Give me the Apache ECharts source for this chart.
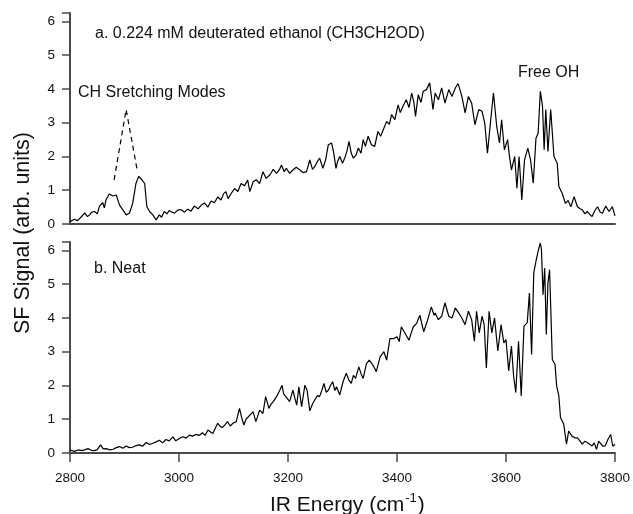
<!DOCTYPE html>
<html>
<head>
<meta charset="utf-8">
<script src="https://cdn.jsdelivr.net/npm/echarts@6/dist/echarts.min.js"></script>
<style>
html, body { margin: 0; padding: 0; background: #fff; }
#chart { width: 633px; height: 514px; }
</style>
</head>
<body>
<div id="chart"></div>
<script>
// a. deuterated ethanol spectrum (x in cm-1, y in arb. units)
var topX = [2800,2808,2814,2820,2827,2832,2836,2840,2845,2850,2854,2860,2863,2866,2872,2879,2885,2888,2891,2897,
	2903,2909,2915,2921,2926,2932,2937,2941,2946,2952,2958,2964,2968,2973,2978,2982,2987,2992,2998,3004,
	3010,3016,3022,3028,3035,3041,3047,3053,3059,3065,3071,3077,3082,3086,3090,3096,3102,3108,3114,3120,
	3126,3130,3136,3142,3148,3154,3160,3167,3173,3179,3184,3188,3193,3197,3203,3209,3215,3222,3228,3234,
	3240,3245,3249,3254,3258,3264,3269,3274,3280,3284,3288,3291,3295,3300,3304,3308,3312,3316,3320,3325,
	3329,3334,3338,3342,3347,3353,3359,3365,3370,3375,3381,3386,3390,3396,3402,3406,3411,3417,3422,3427,
	3431,3434,3439,3444,3448,3454,3460,3463,3466,3470,3476,3482,3488,3495,3501,3507,3512,3516,3519,3525,
	3531,3537,3543,3550,3556,3561,3566,3572,3577,3583,3588,3592,3597,3603,3606,3610,3616,3620,3624,3629,
	3634,3640,3645,3650,3655,3659,3663,3667,3670,3673,3677,3682,3688,3694,3697,3703,3709,3714,3719,3725,
	3731,3736,3740,3745,3749,3754,3758,3763,3768,3773,3777,3783,3789,3795,3800];
var topY = [0.07,0.14,0.10,0.20,0.33,0.22,0.27,0.35,0.37,0.30,0.53,0.63,0.48,0.71,0.89,0.83,0.86,0.70,0.56,0.42,
	0.27,0.32,0.61,1.20,1.41,1.31,1.20,0.51,0.37,0.27,0.12,0.27,0.20,0.37,0.30,0.40,0.35,0.32,0.42,0.42,
	0.35,0.44,0.38,0.53,0.45,0.56,0.62,0.50,0.68,0.63,0.80,0.71,0.90,0.96,0.75,0.91,1.05,0.96,1.20,1.13,
	1.30,0.96,1.25,1.31,1.20,1.55,1.35,1.46,1.62,1.50,1.60,1.75,1.55,1.65,1.50,1.60,1.68,1.60,1.52,1.55,
	1.90,1.62,1.70,1.85,1.95,1.65,1.90,2.35,2.40,2.10,1.65,1.85,2.00,1.80,1.95,2.15,2.45,2.10,1.95,2.05,
	2.25,2.10,2.50,2.30,2.60,2.35,2.30,2.74,2.60,2.80,3.04,2.95,3.24,3.09,3.53,3.30,3.49,3.68,3.45,3.88,
	3.60,3.19,3.83,3.60,3.93,3.98,4.18,3.80,3.39,3.88,3.68,4.03,3.58,3.98,3.78,4.03,4.16,3.95,3.78,3.29,
	3.78,3.58,2.94,3.39,3.34,2.99,2.10,3.09,3.88,2.89,2.40,3.09,2.20,2.50,2.05,1.60,2.00,1.06,2.00,0.71,
	1.90,2.25,1.90,1.21,2.54,2.69,3.93,3.49,2.20,3.39,2.15,3.39,2.00,1.80,1.11,0.91,0.61,0.70,0.51,0.81,
	0.51,0.45,0.42,0.30,0.37,0.28,0.22,0.40,0.51,0.35,0.32,0.53,0.37,0.51,0.24];

// dashed guide over the CH stretch
var dashX = [2881, 2903, 2923];
var dashY = [1.31, 3.39, 1.62];

// b. neat spectrum
var botX = [2800,2808,2815,2822,2828,2833,2839,2845,2850,2856,2861,2867,2873,2879,2885,2891,2897,2903,2909,2915,
	2921,2927,2933,2940,2946,2952,2958,2964,2970,2976,2982,2989,2994,2998,3003,3007,3013,3019,3025,3031,
	3037,3043,3048,3053,3058,3062,3067,3071,3076,3080,3085,3089,3094,3099,3105,3111,3115,3119,3123,3126,
	3130,3136,3141,3148,3154,3159,3165,3169,3173,3179,3185,3189,3192,3196,3203,3209,3213,3216,3220,3225,
	3231,3235,3240,3245,3249,3254,3258,3262,3266,3270,3274,3278,3282,3286,3289,3295,3301,3307,3312,3316,
	3320,3324,3330,3334,3338,3344,3349,3356,3362,3369,3376,3381,3387,3394,3400,3404,3408,3415,3422,3426,
	3430,3436,3442,3449,3456,3463,3468,3470,3476,3482,3488,3495,3501,3507,3513,3519,3525,3531,3537,3542,
	3546,3551,3556,3560,3564,3569,3574,3579,3585,3591,3596,3600,3605,3610,3614,3618,3623,3628,3633,3639,
	3643,3647,3651,3655,3659,3663,3665,3668,3671,3674,3677,3680,3685,3690,3693,3697,3700,3706,3711,3715,
	3721,3726,3731,3736,3740,3745,3749,3754,3758,3762,3766,3770,3773,3778,3782,3787,3792,3796,3800];
var botY = [0.09,0.05,0.09,0.07,0.10,0.13,0.08,0.07,0.10,0.24,0.12,0.13,0.09,0.11,0.16,0.19,0.14,0.21,0.16,0.17,
	0.22,0.24,0.20,0.31,0.25,0.29,0.33,0.38,0.30,0.40,0.36,0.48,0.36,0.40,0.45,0.48,0.44,0.53,0.50,0.55,
	0.52,0.60,0.52,0.68,0.62,0.58,0.75,0.88,0.78,0.76,0.85,0.93,0.80,0.88,0.93,1.32,1.05,0.83,1.00,1.03,
	1.12,1.22,0.93,1.27,1.17,1.67,1.32,1.45,1.52,1.67,1.86,2.01,1.75,1.67,1.52,1.86,1.60,1.42,1.96,1.37,
	2.01,1.86,1.25,1.45,1.57,1.70,1.67,1.85,2.06,1.80,1.86,2.00,2.11,1.85,1.96,1.72,2.11,2.36,2.15,2.06,
	2.30,2.21,2.55,2.35,2.21,2.65,2.75,2.60,2.41,2.85,3.00,2.75,3.39,3.39,3.44,3.30,3.74,3.54,3.34,3.55,
	3.74,3.84,4.08,3.59,3.93,4.33,4.08,4.15,3.95,4.05,4.45,4.05,4.00,4.30,4.15,4.00,3.80,4.20,3.95,3.31,
	4.20,3.56,4.05,3.80,2.52,4.20,3.56,4.00,3.02,3.80,3.26,3.36,2.43,3.17,2.28,1.79,3.31,1.69,3.76,3.86,
	4.74,2.92,5.34,5.68,5.98,6.22,6.05,4.69,5.48,3.51,5.04,5.43,2.77,2.62,1.98,1.69,1.05,0.85,0.26,0.65,
	0.50,0.45,0.45,0.35,0.26,0.35,0.31,0.25,0.21,0.30,0.11,0.35,0.40,0.20,0.21,0.40,0.55,0.20,0.26];

function pairs(xs, ys) {
	var out = [];
	for (var i = 0; i < xs.length; i++) {
		out.push([xs[i], ys[i]]);
	}
	return out;
}

var font = 'Liberation Sans, Arial, sans-serif';
var axisColor = '#4a4a4a';

function yAxisFor(idx) {
	return {
		gridIndex: idx,
		type: 'value',
		min: 0,
		max: 6.25,
		interval: 1,
		axisLine: { show: true, onZero: false, lineStyle: { color: axisColor, width: 2 } },
		axisTick: { show: true, inside: false, length: 8, lineStyle: { color: axisColor, width: 1.5 } },
		axisLabel: {
			margin: 15, color: '#111', fontSize: 13.5, fontFamily: font,
			formatter: function (v) { return v % 1 === 0 ? String(v) : ''; }
		},
		splitLine: { show: false }
	};
}

var chart = echarts.init(document.getElementById('chart'));
var option = {
	animation: false,
	backgroundColor: '#fff',
	grid: [
		{ left: 70, right: 18, top: 13, height: 211 },
		{ left: 70, right: 18, top: 242, height: 211 }
	],
	xAxis: [
		{
			gridIndex: 0, type: 'value', min: 2800, max: 3800, interval: 200,
			axisLine: { show: true, onZero: false, lineStyle: { color: axisColor, width: 2 } },
			axisTick: { show: false },
			axisLabel: { show: false },
			splitLine: { show: false }
		},
		{
			gridIndex: 1, type: 'value', min: 2800, max: 3800, interval: 200,
			axisLine: { show: true, onZero: false, lineStyle: { color: axisColor, width: 2 } },
			axisTick: { show: true, length: 9, lineStyle: { color: axisColor, width: 1.5 } },
			axisLabel: {
				margin: 18, color: '#111', fontSize: 13.5, fontFamily: font,
				formatter: function (v) { return String(v); }
			},
			splitLine: { show: false }
		}
	],
	yAxis: [yAxisFor(0), yAxisFor(1)],
	series: [
		{
			name: 'deuterated ethanol', type: 'line', xAxisIndex: 0, yAxisIndex: 0,
			data: pairs(topX, topY), showSymbol: false,
			lineStyle: { color: '#000', width: 1.2 }
		},
		{
			name: 'CH guide', type: 'line', xAxisIndex: 0, yAxisIndex: 0,
			data: pairs(dashX, dashY), showSymbol: false,
			lineStyle: { color: '#000', width: 1.2, type: [5, 4] }
		},
		{
			name: 'neat', type: 'line', xAxisIndex: 1, yAxisIndex: 1,
			data: pairs(botX, botY), showSymbol: false,
			lineStyle: { color: '#000', width: 1.2 }
		}
	],
	graphic: [
		{ type: 'text', left: 95, top: 26, style: { text: 'a. 0.224 mM deuterated ethanol (CH3CH2OD)', font: '16px ' + font, fill: '#111' } },
		{ type: 'text', left: 78, top: 85, style: { text: 'CH Sretching Modes', font: '16px ' + font, fill: '#111' } },
		{ type: 'text', left: 518, top: 65, style: { text: 'Free OH', font: '16px ' + font, fill: '#111' } },
		{ type: 'text', left: 94, top: 261, style: { text: 'b. Neat', font: '16px ' + font, fill: '#111' } },
		{
			type: 'text', x: 23, y: 233, rotation: Math.PI / 2,
			style: { text: 'SF Signal (arb. units)', font: '21.5px ' + font, fill: '#111', align: 'center', verticalAlign: 'middle' }
		},
		{
			type: 'text', left: 270, top: 492,
			style: {
				text: '{n|IR Energy (cm}{s|-1}{n|)}',
				rich: {
					n: { font: '21px ' + font, fill: '#111', verticalAlign: 'bottom' },
					s: { font: '13px ' + font, fill: '#111', verticalAlign: 'top', padding: [0, 1, 11, 1] }
				}
			}
		}
	]
};
chart.setOption(option);
</script>
</body>
</html>
